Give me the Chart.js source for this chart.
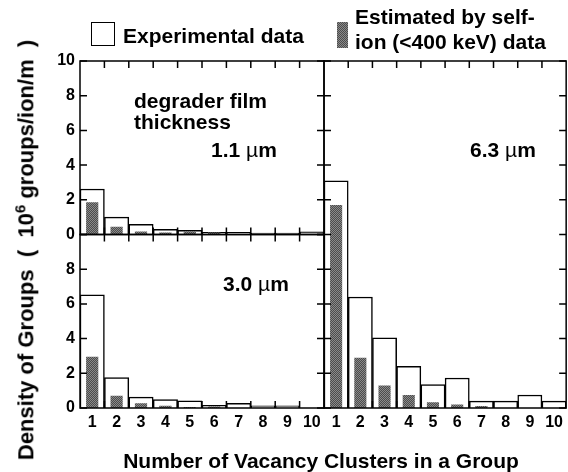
<!DOCTYPE html>
<html>
<head>
<meta charset="utf-8">
<script src="https://cdn.jsdelivr.net/npm/chart.js@4.4.1/dist/chart.umd.min.js"></script>
<style>
    body { margin: 0; background: #fff; }
    #wrap { position: relative; width: 568px; height: 472px; overflow: hidden;
            font-family: "Liberation Sans", Arial, sans-serif; font-weight: bold; color: #000; }
    canvas { position: absolute; left: 0; top: 0; }
    .txt { position: absolute; white-space: nowrap; font-size: 21px; line-height: 21px; transform: translateY(-50%); }
    .mu { font-weight: normal; }
    .box { position: absolute; box-sizing: border-box; }
</style>
</head>
<body>
<div id="wrap">
    <canvas id="topLeft" width="568" height="472"></canvas>
    <canvas id="bottomLeft" width="568" height="472"></canvas>
    <canvas id="right" width="568" height="472"></canvas>

    <div class="box" style="left:91px; top:22px; width:24px; height:24px; border:1.5px solid #000; background:#fff;"></div>
    <div class="txt" style="left:123px; top:35px;">Experimental data</div>
    <div class="box" id="graySwatch" style="left:337px; top:22px; width:11px; height:26px;"></div>
    <div class="txt" style="left:355px; top:16px;">Estimated by self-</div>
    <div class="txt" style="left:355px; top:41px;">ion (&lt;400 keV) data</div>

    <div class="txt" style="left:134px; top:100px;">degrader film</div>
    <div class="txt" style="left:134px; top:121px;">thickness</div>
    <div class="txt" style="left:211px; top:149px;">1.1 <span class="mu">µ</span>m</div>
    <div class="txt" style="left:470px; top:149px;">6.3 <span class="mu">µ</span>m</div>
    <div class="txt" style="left:223px; top:283px;">3.0 <span class="mu">µ</span>m</div>

    <div class="txt" style="left:321px; top:460px; transform: translate(-50%, -50%);">Number of Vacancy Clusters in a Group</div>
    <div class="txt" style="left:23px; top:250px; font-size:22px; transform: translate(-50%, -50%) rotate(-90deg);">Density of Groups&nbsp; (&nbsp; 10<sup style="font-size:15px;">6</sup> groups/ion/m&nbsp; )</div>
</div>

<script>
const categories = ["1", "2", "3", "4", "5", "6", "7", "8", "9", "10"];

// 1.1 um degrader
const exp11 = [2.62, 1.0, 0.58, 0.3, 0.24, 0.13, 0.13, 0.08, 0.08, 0.15];
const est11 = [1.86, 0.45, 0.18, 0.11, 0.17, 0.11, 0.03, 0.02, 0, 0];

// 3.0 um degrader
const exp30 = [6.52, 1.75, 0.63, 0.48, 0.42, 0.15, 0.27, 0.13, 0.13, 0];
const est30 = [2.95, 0.7, 0.27, 0.13, 0.06, 0.08, 0, 0, 0, 0];

// 6.3 um degrader
const exp63 = [13.1, 6.4, 4.05, 2.4, 1.35, 1.73, 0.4, 0.4, 0.75, 0.4];
const est63 = [11.7, 2.9, 1.3, 0.75, 0.33, 0.2, 0.12, 0, 0, 0];

function grayPattern() {
    const c = document.createElement("canvas");
    c.width = 2; c.height = 2;
    const g = c.getContext("2d");
    g.fillStyle = "#4c4c4c"; g.fillRect(0, 0, 2, 2);
    g.fillStyle = "#8a8a8a"; g.fillRect(0, 0, 1, 1); g.fillRect(1, 1, 1, 1);
    return g.createPattern(c, "repeat");
}
const gray = grayPattern();
document.getElementById("graySwatch").style.background =
    "repeating-conic-gradient(#4c4c4c 0 25%, #8a8a8a 0 50%) 0 0 / 2px 2px";

// frame + inward tick marks, positioned from the chart's own scales
const frameTicks = {
    id: "frameTicks",
    afterDatasetsDraw(chart) {
        const { ctx, chartArea: a, scales } = chart;
        const x = scales.x, y = scales.y;
        const len = 7;
        ctx.save();
        ctx.strokeStyle = "#000";
        ctx.lineWidth = 1.5;
        ctx.strokeRect(a.left, a.top, a.right - a.left, a.bottom - a.top);
        ctx.beginPath();
        y.ticks.forEach(t => {
            const py = y.getPixelForValue(t.value);
            ctx.moveTo(a.left, py); ctx.lineTo(a.left + len, py);
            ctx.moveTo(a.right, py); ctx.lineTo(a.right - len, py);
        });
        for (let i = 1; i < categories.length; i++) {
            const px = (x.getPixelForValue(i - 1) + x.getPixelForValue(i)) / 2;
            ctx.moveTo(px, a.top); ctx.lineTo(px, a.top + len);
            ctx.moveTo(px, a.bottom); ctx.lineTo(px, a.bottom - len);
        }
        ctx.stroke();
        ctx.restore();
    }
};

const tickFont = { family: "'Liberation Sans', Arial, sans-serif", size: 16, weight: "bold" };

function makePanel(id, exp, est, cfg) {
    return new Chart(document.getElementById(id), {
        type: "bar",
        data: {
            labels: categories,
            datasets: [
                { label: "Estimated", data: est, backgroundColor: gray, borderWidth: 0,
                  grouped: false, order: 0, barPercentage: 0.5, categoryPercentage: 1 },
                { label: "Experimental", data: exp, backgroundColor: "#fff", borderColor: "#000",
                  borderWidth: 1.5, grouped: false, order: 1, barPercentage: 1, categoryPercentage: 1 }
            ]
        },
        options: {
            responsive: false,
            animation: false,
            devicePixelRatio: 1,
            layout: { padding: cfg.padding },
            plugins: { legend: { display: false }, tooltip: { enabled: false } },
            scales: {
                x: {
                    display: cfg.showX,
                    grid: { display: false, drawTicks: false },
                    border: { display: false },
                    ticks: { color: "#000", font: tickFont, padding: 5, autoSkip: false, maxRotation: 0 },
                    afterFit: s => { s.height = cfg.showX ? 30 : 0; }
                },
                y: {
                    min: 0, max: cfg.max,
                    grid: { display: false, drawTicks: false },
                    border: { display: false },
                    ticks: {
                        stepSize: 2, display: cfg.showY, color: "#000", font: tickFont, padding: 5,
                        callback: v => (cfg.hideTop && v === cfg.max ? "" : v)
                    },
                    afterFit: s => { s.width = cfg.yWidth; }
                }
            }
        },
        plugins: [frameTicks]
    });
}

// plot areas: left panels x 80..324, right panel 324..567; rows 61..234.5..408
makePanel("topLeft", exp11, est11, {
    padding: { left: 0, top: 61, right: 244, bottom: 237.5 },
    showX: false, showY: true, max: 10, yWidth: 80, hideTop: false
});
makePanel("bottomLeft", exp30, est30, {
    padding: { left: 0, top: 234.5, right: 244, bottom: 34 },
    showX: true, showY: true, max: 10, yWidth: 80, hideTop: true
});
makePanel("right", exp63, est63, {
    padding: { left: 324, top: 61, right: 1, bottom: 34 },
    showX: true, showY: false, max: 20, yWidth: 0, hideTop: false
});
</script>
</body>
</html>
